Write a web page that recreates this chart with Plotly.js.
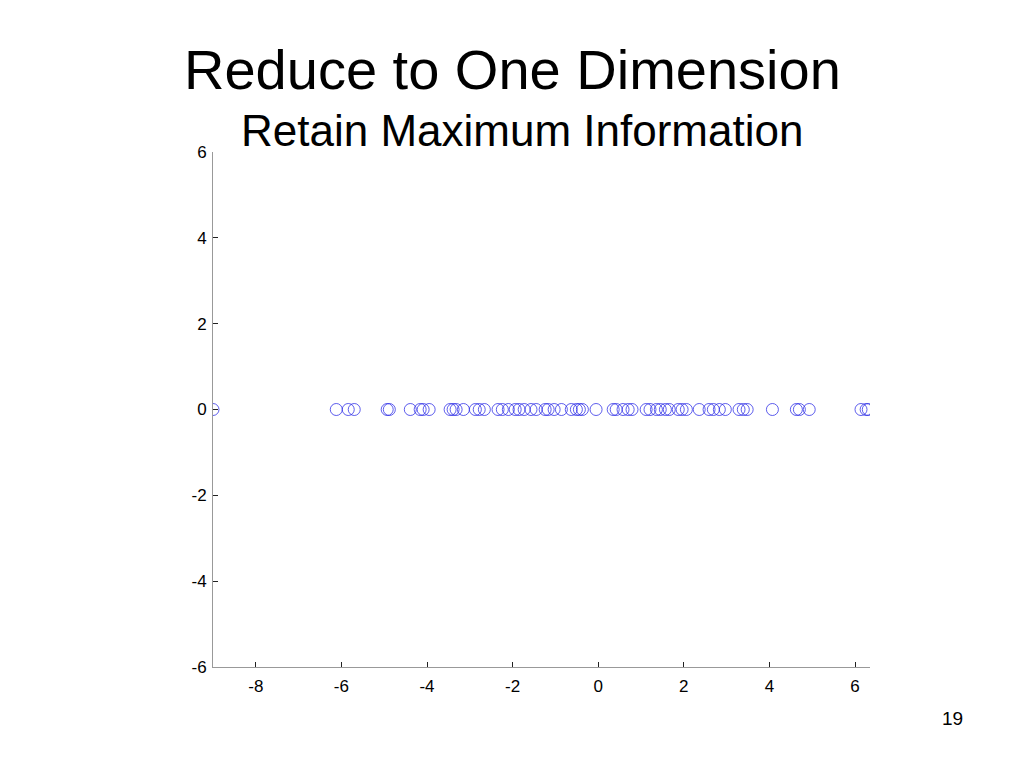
<!DOCTYPE html>
<html>
<head>
<meta charset="utf-8">
<script src="https://cdn.plot.ly/plotly-3.0.1.min.js"></script>
<style>html,body{margin:0;padding:0;background:#fff;}#chart{width:1024px;height:768px;}</style>
</head>
<body>
<div id="chart"></div>
<script>
const projectedX = [-9.00, -6.12, -5.84, -5.70, -4.93, -4.88, -4.39, -4.16, -4.09, -3.95,
  -3.46, -3.39, -3.32, -3.15, -2.87, -2.78, -2.66, -2.34, -2.24, -2.10,
  -1.94, -1.85, -1.73, -1.57, -1.45, -1.24, -1.17, -1.03, -0.86, -0.63,
  -0.51, -0.44, -0.37, -0.05, 0.35, 0.42, 0.58, 0.70, 0.79, 1.12,
  1.21, 1.36, 1.45, 1.57, 1.66, 1.87, 1.96, 2.06, 2.36, 2.59,
  2.69, 2.83, 2.97, 3.29, 3.39, 3.48, 4.07, 4.63, 4.70, 4.93,
  6.14, 6.26, 6.31];
const projectedY = projectedX.map(() => 0);
const xTicks = [-8, -6, -4, -2, 0, 2, 4, 6];
const yTicks = [-6, -4, -2, 0, 2, 4, 6];
const titleText = "Reduce to One Dimension";
const subtitleText = "Retain Maximum Information";
const pageNumber = "19";

const font = "Liberation Sans, Arial, sans-serif";
const trace = {
  x: projectedX, y: projectedY, type: 'scatter', mode: 'markers',
  marker: {symbol: 'circle-open', size: 12, color: 'rgba(40,40,230,0.75)', line: {width: 1}},
  hoverinfo: 'skip'
};
const axisCommon = {
  showgrid: false, zeroline: false, showline: true, linecolor: '#999', linewidth: 1,
  ticks: 'inside', ticklen: 5, tickcolor: '#222', tickwidth: 1,
  tickfont: {family: font, size: 17, color: '#000'}
};
const layout = {
  width: 1024, height: 768,
  margin: {l: 213, r: 154, t: 152, b: 101},
  paper_bgcolor: '#fff', plot_bgcolor: '#fff',
  showlegend: false,
  xaxis: Object.assign({}, axisCommon, {range: [-9, 6.35], tickvals: xTicks, ticktext: xTicks.map(String), ticklabelstandoff: 4}),
  yaxis: Object.assign({}, axisCommon, {range: [-6, 6], tickvals: yTicks, ticktext: yTicks.map(String), ticklabelstandoff: 2}),
  annotations: [
    {text: titleText, xref: 'paper', yref: 'paper', x: (512-213)/657, y: (667-70)/515, xanchor: 'center', yanchor: 'middle', showarrow: false, font: {family: font, size: 56, color: '#000'}},
    {text: subtitleText, xref: 'paper', yref: 'paper', x: (522-213)/657, y: (667-130)/515, xanchor: 'center', yanchor: 'middle', showarrow: false, font: {family: font, size: 44, color: '#000'}},
    {text: pageNumber, xref: 'paper', yref: 'paper', x: (952-213)/657, y: (667-718)/515, xanchor: 'center', yanchor: 'middle', showarrow: false, font: {family: font, size: 19, color: '#000'}}
  ]
};
Plotly.newPlot('chart', [trace], layout, {staticPlot: true, displayModeBar: false});
</script>
</body>
</html>
